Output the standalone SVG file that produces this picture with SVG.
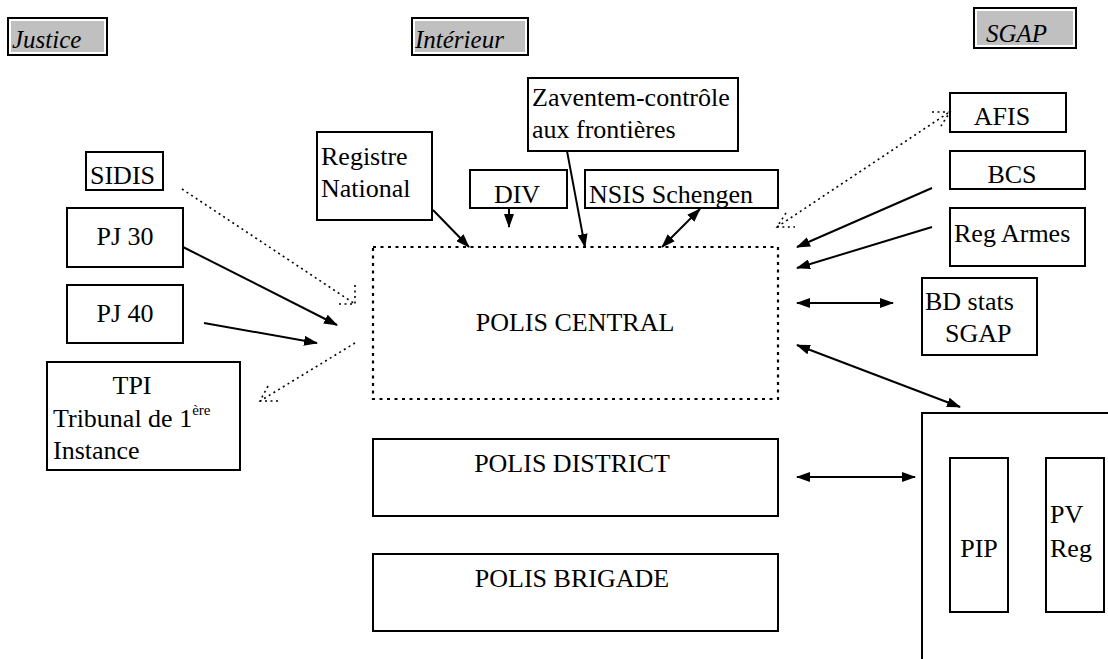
<svg xmlns="http://www.w3.org/2000/svg" width="1108" height="659" viewBox="0 0 1108 659">
<style>
  .box { fill: #ffffff; stroke: #000000; stroke-width: 2; }
  .hdr-out { fill: #ffffff; stroke: #000000; stroke-width: 2; }
  .hdr-in { fill: #c0c0c0; stroke: none; }
  text { font-family: 'Liberation Serif', Tinos, 'Times New Roman', 'DejaVu Serif', serif; }
  .t { font-size: 26px; fill: #000000; }
  .ti { font-size: 25px; font-style: italic; fill: #000000; }
  .sup { font-size: 15px; }
  .arr { fill: none; stroke: #000000; stroke-width: 2; }
  .dot { fill: none; stroke: #000000; stroke-width: 1.6; stroke-dasharray: 2 3.5; }
  .dbox { fill: #ffffff; stroke: #000000; stroke-width: 2.2; stroke-dasharray: 3 4.5; }
</style>
<defs>
  <marker id="ah" viewBox="0 0 14 10" refX="13" refY="5" markerWidth="14" markerHeight="10" markerUnits="userSpaceOnUse" orient="auto-start-reverse">
    <path d="M0,0 L14,5 L0,10 Z" fill="#000000"/>
  </marker>
</defs>

<g font-family="Liberation Serif, Tinos, Times New Roman, DejaVu Serif, serif">
<!-- header labels -->
<g id="hdr-justice">
  <rect class="hdr-out" x="8" y="18" width="99" height="37"/>
  <rect class="hdr-in" x="11" y="21" width="93" height="31"/>
  <text class="ti" x="12" y="48">Justice</text>
</g>
<g id="hdr-interieur">
  <rect class="hdr-out" x="412" y="18" width="116" height="37"/>
  <rect class="hdr-in" x="415" y="21" width="110" height="31"/>
  <text class="ti" x="415" y="48">Intérieur</text>
</g>
<g id="hdr-sgap">
  <rect class="hdr-out" x="974" y="8" width="102" height="40"/>
  <rect class="hdr-in" x="977" y="11" width="96" height="34"/>
  <text class="ti" x="986" y="42">SGAP</text>
</g>

<!-- left nodes -->
<g id="sidis">
  <rect class="box" x="86" y="152" width="77" height="38"/>
  <text class="t" x="90" y="184">SIDIS</text>
</g>
<g id="pj30">
  <rect class="box" x="67" y="208" width="116" height="59"/>
  <text class="t" x="125" y="245" text-anchor="middle">PJ 30</text>
</g>
<g id="pj40">
  <rect class="box" x="67" y="285" width="116" height="58"/>
  <text class="t" x="125" y="322" text-anchor="middle">PJ 40</text>
</g>
<g id="tpi">
  <rect class="box" x="47" y="362" width="193" height="108"/>
  <text class="t" x="132" y="394" text-anchor="middle">TPI</text>
  <text class="t" x="53" y="427">Tribunal de 1<tspan class="sup" dy="-12">ère</tspan></text>
  <text class="t" x="53" y="459">Instance</text>
</g>

<!-- top nodes -->
<g id="registre">
  <rect class="box" x="317" y="132" width="115" height="88"/>
  <text class="t" x="321" y="165">Registre</text>
  <text class="t" x="321" y="197">National</text>
</g>
<g id="div">
  <rect class="box" x="470" y="170" width="97" height="38"/>
  <text class="t" x="517" y="203" text-anchor="middle">DIV</text>
</g>
<g id="zaventem">
  <rect class="box" x="528" y="78" width="210" height="73"/>
  <text class="t" x="532" y="106">Zaventem-contrôle</text>
  <text class="t" x="532" y="138">aux frontières</text>
</g>
<g id="nsis">
  <rect class="box" x="585" y="170" width="193" height="38"/>
  <text class="t" x="589" y="203">NSIS Schengen</text>
</g>

<!-- right nodes -->
<g id="afis">
  <rect class="box" x="950" y="93" width="116" height="39"/>
  <text class="t" x="1002" y="125" text-anchor="middle">AFIS</text>
</g>
<g id="bcs">
  <rect class="box" x="950" y="151" width="135" height="38"/>
  <text class="t" x="1012" y="183" text-anchor="middle">BCS</text>
</g>
<g id="regarmes">
  <rect class="box" x="950" y="208" width="135" height="58"/>
  <text class="t" x="954" y="242">Reg Armes</text>
</g>
<g id="bdstats">
  <rect class="box" x="922" y="278" width="115" height="77"/>
  <text class="t" x="925" y="310">BD stats</text>
  <text class="t" x="945" y="342">SGAP</text>
</g>
<g id="pv-container">
  <path d="M922,660 L922,413 L1110,413" fill="none" stroke="#000000" stroke-width="2"/>
</g>
<g id="pip">
  <rect class="box" x="950" y="458" width="58" height="154"/>
  <text class="t" x="979" y="557" text-anchor="middle">PIP</text>
</g>
<g id="pvreg">
  <rect class="box" x="1046" y="458" width="58" height="154"/>
  <text class="t" x="1050" y="523">PV</text>
  <text class="t" x="1050" y="557">Reg</text>
</g>

<!-- central nodes -->
<g id="polis-central">
  <rect class="dbox" x="373" y="247" width="405" height="152"/>
  <text class="t" x="575" y="331" text-anchor="middle">POLIS CENTRAL</text>
</g>
<g id="polis-district">
  <rect class="box" x="373" y="439" width="405" height="77"/>
  <text class="t" x="572" y="472" text-anchor="middle">POLIS DISTRICT</text>
</g>
<g id="polis-brigade">
  <rect class="box" x="373" y="554" width="405" height="77"/>
  <text class="t" x="572" y="587" text-anchor="middle">POLIS BRIGADE</text>
</g>
</g>

<!-- connectors -->
<g id="connectors">
  <line class="arr" x1="183" y1="247" x2="337" y2="325" marker-end="url(#ah)"/>
  <line class="arr" x1="204" y1="323" x2="317" y2="343" marker-end="url(#ah)"/>
  <line class="arr" x1="433" y1="210" x2="469" y2="247" marker-end="url(#ah)"/>
  <line class="arr" x1="509" y1="209" x2="509" y2="227" marker-end="url(#ah)"/>
  <line class="arr" x1="567" y1="151" x2="585" y2="247" marker-end="url(#ah)"/>
  <line class="arr" x1="662" y1="247" x2="700" y2="209" marker-start="url(#ah)" marker-end="url(#ah)"/>
  <line class="arr" x1="932" y1="188" x2="797" y2="247" marker-end="url(#ah)"/>
  <line class="arr" x1="932" y1="227" x2="797" y2="268" marker-end="url(#ah)"/>
  <line class="arr" x1="797" y1="303" x2="893" y2="303" marker-start="url(#ah)" marker-end="url(#ah)"/>
  <line class="arr" x1="797" y1="345" x2="960" y2="407" marker-start="url(#ah)" marker-end="url(#ah)"/>
  <line class="arr" x1="797" y1="477" x2="915" y2="477" marker-start="url(#ah)" marker-end="url(#ah)"/>
  <polyline class="dot" points="182,189 355,304"/>
  <polyline class="dot" points="355,285 355,304 337,304"/>
  <polyline class="dot" points="355,343 260,401"/>
  <polyline class="dot" points="268,386 260,401 278,401"/>
  <polyline class="dot" points="777,227 948,113"/>
  <polyline class="dot" points="932,112 950,112 941,126"/>
  <polyline class="dot" points="786,213 777,227 795,227"/>
</g>
</svg>
